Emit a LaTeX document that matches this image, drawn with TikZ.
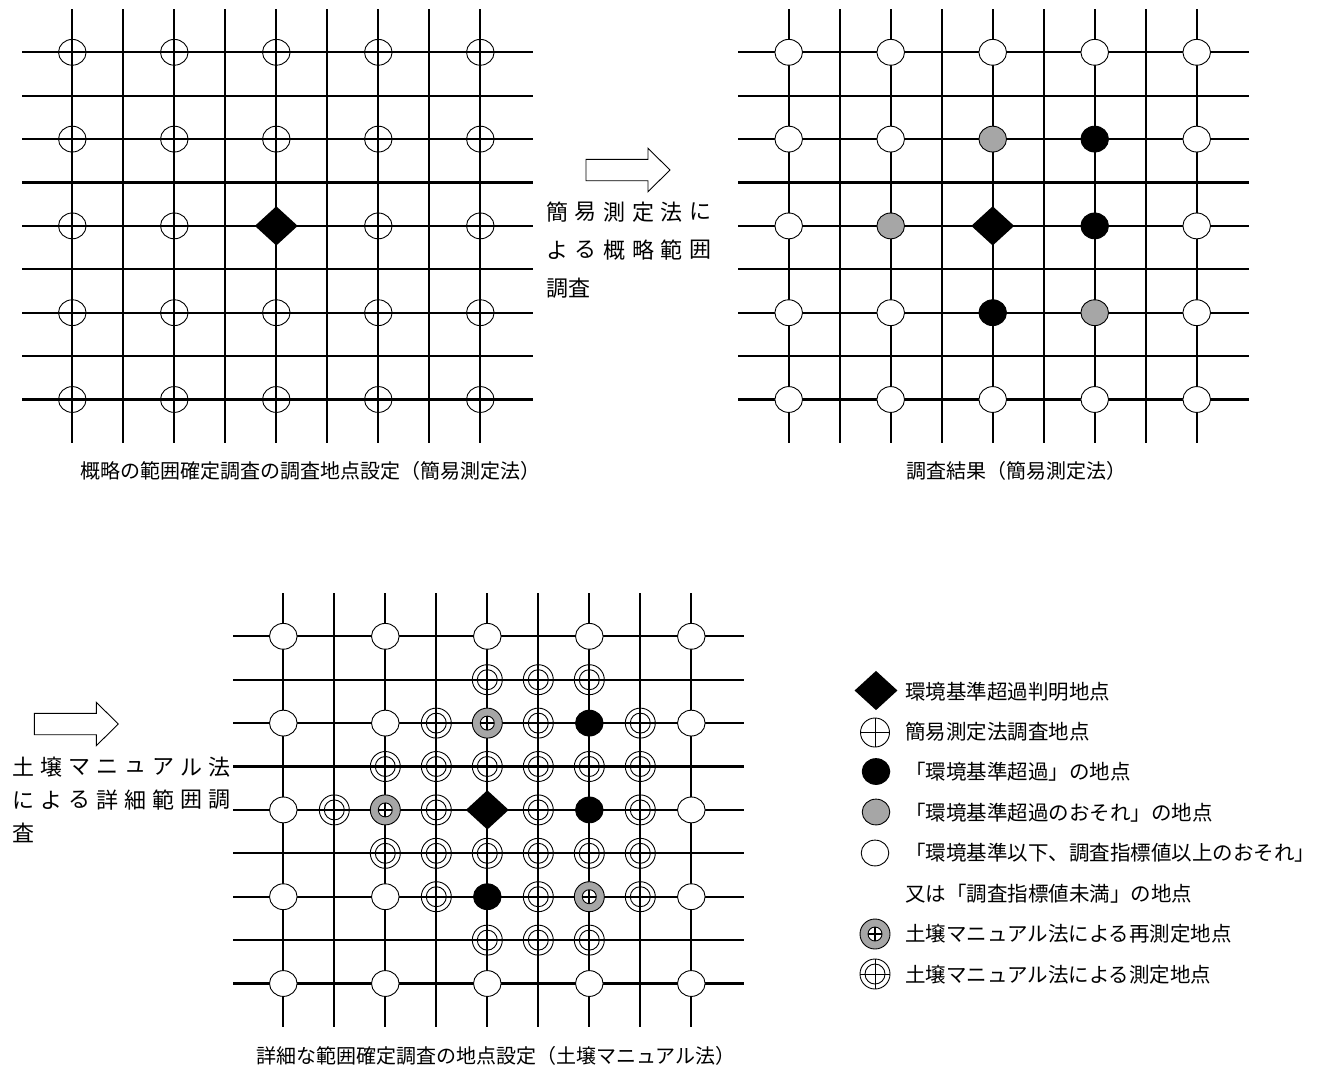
\documentclass[tikz,border=0pt]{standalone}
\usepackage{fontspec}
\setmainfont{Noto Sans CJK JP}
\usetikzlibrary{shapes.geometric}
\definecolor{riskgray}{gray}{0.65}

% 9x9 survey grid, #1/#2 = first crossing (px)
\newcommand\fieldgrid[2]{%
  \foreach \k in {0,...,8} {
    \draw[gridline] ({#1+51*\k},{#2-43.3}) -- ++(0,434);
    \draw[gridline] ({#1-50.3},{#2+43.4*\k}) -- ++(510.7,0);
  }}

% hollow block arrow, #1/#2 = middle of the tail
\newcommand\blockarrow[2]{%
  \draw[outline] ({#1},{#2-10.7}) -- ++(62,0) -- ++(0,-11) -- ++(22,21.7)
    -- ++(-22,21.7) -- ++(0,-11) -- ++(-62,0) -- cycle;}

\begin{document}
\begin{tikzpicture}[
  x=1pt,y=-1pt,
  gridline/.style={line width=2.1pt},
  outline/.style={line width=0.9pt},
  spot/.style={ellipse,draw,line width=0.9pt,minimum width=27.6pt,minimum height=25.8pt,inner sep=0pt},
  probe/.style={spot},
  clear/.style={spot,fill=white},
  hit/.style={spot,fill=black},
  risk/.style={spot,fill=riskgray},
  exceed/.style={diamond,fill=black,minimum width=43pt,minimum height=39.4pt,inner sep=0pt},
  detail/.style={circle,draw,line width=0.9pt,minimum size=30pt,inner sep=0pt,
    path picture={\draw[line width=0.9pt] (path picture bounding box.center) circle[radius=10pt];}},
  recheck/.style={circle,draw,fill=riskgray,line width=0.9pt,minimum size=30pt,inner sep=0pt,
    path picture={
      \draw[fill=white,line width=0.9pt] (path picture bounding box.center) circle[radius=7pt];
      \draw[line width=2pt] ([xshift=-7pt]path picture bounding box.center) -- ([xshift=7pt]path picture bounding box.center);
      \draw[line width=2pt] ([yshift=-7pt]path picture bounding box.center) -- ([yshift=7pt]path picture bounding box.center);}},
  probekey/.style={circle,draw,line width=0.9pt,minimum size=29pt,inner sep=0pt,
    path picture={
      \draw[line width=0.9pt] ([xshift=-15pt]path picture bounding box.center) -- ([xshift=15pt]path picture bounding box.center);
      \draw[line width=0.9pt] ([yshift=-15pt]path picture bounding box.center) -- ([yshift=15pt]path picture bounding box.center);}},
  detailkey/.style={circle,draw,line width=0.9pt,minimum size=30pt,inner sep=0pt,
    path picture={
      \draw[line width=0.9pt] (path picture bounding box.center) circle[radius=10pt];
      \draw[line width=0.9pt] ([xshift=-15pt]path picture bounding box.center) -- ([xshift=15pt]path picture bounding box.center);
      \draw[line width=0.9pt] ([yshift=-15pt]path picture bounding box.center) -- ([yshift=15pt]path picture bounding box.center);}},
  caption/.style={font=\fontsize{20}{24}\selectfont,inner sep=0pt},
  keytext/.style={font=\fontsize{20.5}{24}\selectfont,inner sep=0pt,anchor=west},
  flowtext/.style={font=\fontsize{22}{26}\selectfont,inner sep=0pt}
]
  \useasboundingbox (0,0) rectangle (1321,1074);

  % outline survey: points
  \fieldgrid{72.3}{52.3}
  \foreach \c in {0,2,...,8}
    \foreach \r in {0,2,...,8}
      {\ifnum\c\r=44\relax\else
         \node[probe] (a\c\r) at ({72.3+51*\c},{52.3+43.4*\r}) {};
       \fi}
  \node[exceed] (a44) at ({72.3+51*4},{52.3+43.4*4}) {};
  \node[caption,anchor=east] (capA) at (541,471) {概略の範囲確定調査の調査地点設定（簡易測定法）};

  % outline survey: results
  \fieldgrid{788.7}{52.3}
  \foreach \c/\r in {0/0,2/0,4/0,6/0,8/0,0/2,2/2,8/2,0/4,8/4,0/6,2/6,8/6,0/8,2/8,4/8,6/8,8/8}
    \node[clear] (b\c\r) at ({788.7+51*\c},{52.3+43.4*\r}) {};
  \foreach \c/\r in {6/2,6/4,4/6}
    \node[hit] (b\c\r) at ({788.7+51*\c},{52.3+43.4*\r}) {};
  \foreach \c/\r in {4/2,2/4,6/6}
    \node[risk] (b\c\r) at ({788.7+51*\c},{52.3+43.4*\r}) {};
  \node[exceed] (b44) at ({788.7+51*4},{52.3+43.4*4}) {};
  \node[caption,anchor=east] (capB) at (1127,471) {調査結果（簡易測定法）};

  % step 1
  \blockarrow{586}{170}
  \foreach \ch [count=\i from 0] in {簡,易,測,定,法,に}
    \node[flowtext] (s1\i) at ({557.3+28.6*\i},211.7) {\ch};
  \foreach \ch [count=\i from 0] in {よ,る,概,略,範,囲}
    \node[flowtext] (s2\i) at ({557.3+28.6*\i},250) {\ch};
  \node[flowtext,anchor=west] (s3) at (546,288.3) {調査};

  % detailed survey
  \fieldgrid{283.3}{636.3}
  \foreach \c/\r in {0/0,2/0,4/0,6/0,8/0,0/2,2/2,8/2,0/4,8/4,0/6,2/6,8/6,0/8,2/8,4/8,6/8,8/8}
    \node[clear] (c\c\r) at ({283.3+51*\c},{636.3+43.4*\r}) {};
  \foreach \c/\r in {4/1,5/1,6/1,3/2,5/2,7/2,2/3,3/3,4/3,5/3,6/3,7/3,1/4,3/4,5/4,7/4,
                     2/5,3/5,4/5,5/5,6/5,7/5,3/6,5/6,7/6,4/7,5/7,6/7}
    \node[detail] (c\c\r) at ({283.3+51*\c},{636.3+43.4*\r}) {};
  \foreach \c/\r in {6/2,6/4,4/6}
    \node[hit] (c\c\r) at ({283.3+51*\c},{636.3+43.4*\r}) {};
  \foreach \c/\r in {4/2,2/4,6/6}
    \node[recheck] (c\c\r) at ({283.3+51*\c},{636.3+43.4*\r}) {};
  \node[exceed] (c44) at ({283.3+51*4},{636.3+43.4*4}) {};
  \node[caption] (capC) at (496,1056) {詳細な範囲確定調査の地点設定（土壌マニュアル法）};

  % step 2
  \blockarrow{34.3}{724}
  \foreach \ch [count=\i from 0] in {土,壌,マ,ニ,ュ,ア,ル,法}
    \node[flowtext] (t1\i) at ({23.5+28*\i},767) {\ch};
  \foreach \ch [count=\i from 0] in {に,よ,る,詳,細,範,囲,調}
    \node[flowtext] (t2\i) at ({23.5+28*\i},800) {\ch};
  \node[flowtext] (t3) at (23.5,833.3) {査};

  % legend
  \node[exceed] (kExc) at (876,690.5) {};
  \node[probekey] (kProbe) at (875,732.5) {};
  \node[hit] (kHit) at (876,771.5) {};
  \node[risk] (kRisk) at (876,812) {};
  \node[clear] (kClear) at (875,853) {};
  \node[recheck] (kRe) at (875,934) {};
  \node[detailkey] (kDet) at (875,974) {};
  \node[keytext] (lExc) at (905,691.5) {環境基準超過判明地点};
  \node[keytext] (lProbe) at (905,732) {簡易測定法調査地点};
  \node[keytext] (lHit) at (905,772) {「環境基準超過」の地点};
  \node[keytext] (lRisk) at (905,812.5) {「環境基準超過のおそれ」の地点};
  \node[keytext] (lClear) at (905,853) {「環境基準以下、調査指標値以上のおそれ」};
  \node[keytext] (lClear2) at (905,893.5) {又は「調査指標値未満」の地点};
  \node[keytext] (lRe) at (905,934) {土壌マニュアル法による再測定地点};
  \node[keytext] (lDet) at (905,974.5) {土壌マニュアル法による測定地点};
\end{tikzpicture}
\end{document}
